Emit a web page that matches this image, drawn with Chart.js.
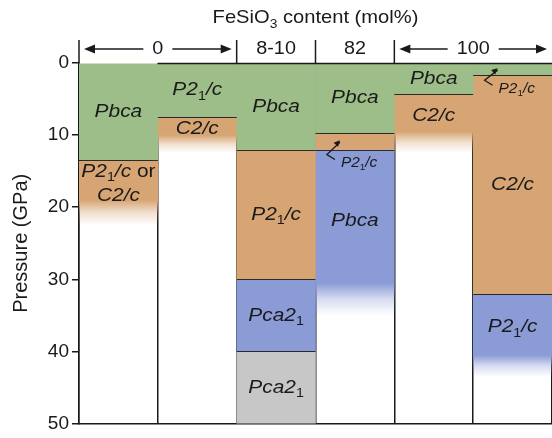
<!DOCTYPE html>
<html lang="en">
<head>
<meta charset="utf-8">
<script src="https://cdn.jsdelivr.net/npm/chart.js@4.4.1/dist/chart.umd.min.js"></script>
<title>FeSiO3 phases vs pressure</title>
<style>
  html, body { margin: 0; padding: 0; background: #fff; }
  .wrap { position: relative; width: 552px; height: 438px; }
</style>
</head>
<body>
<div class="wrap"><canvas id="phases"></canvas></div>
<script>
// one column per study, FeSiO3 content on top
var columns = ['0', '0', '8-10', '82', '100', '100'];
var headerGroups = [['0', 0, 1], ['8-10', 2, 2], ['82', 3, 3], ['100', 4, 5]]; // label, first col, last col
var pressureTicks = [0, 10, 20, 30, 40, 50];

// [from, to] in GPa; fadeFrom = where the colour starts to fade out
var greenRanges = [[0, 13.5], [0, 7.5], [0, 12], [0, 9.7], [0, 4.3], [0, 1.7]];
var greenLabels = ['Pbca', 'P2_1/c', 'Pbca', 'Pbca', 'Pbca', 'P2_1/c'];

var orangeRanges = [[13.5, 22.5], [7.5, 12.5], [12, 30], [9.7, 12], [4.3, 12.5], [1.7, 32]];
var orangeFadeFrom = [19, 10, null, null, 9.5, null];
var orangeLabels = ['P2_1/c or|C2/c', 'C2/c', 'P2_1/c', 'P2_1/c', 'C2/c', 'C2/c'];

var blueRanges = [null, null, [30, 40], [12, 35], null, [32, 43.5]];
var blueFadeFrom = [null, null, null, 30.5, null, 40.5];
var blueLabels = [null, null, 'Pca2_1', 'Pbca', null, 'P2_1/c'];

var grayRanges = [null, null, [40, 50], null, null, null];
var grayLabels = [null, null, 'Pca2_1', null, null, null];

var GREEN = '#9dbd89', ORANGE = '#d7a574', BLUE = '#8a9bd6', GRAY = '#c8c7c8';
var INK = '#1a1a1a';
var FONT = '"Liberation Sans", Arial, sans-serif';

function rgba(hex, a) {
  var n = parseInt(hex.slice(1), 16);
  return 'rgba(' + (n >> 16) + ',' + ((n >> 8) & 255) + ',' + (n & 255) + ',' + a + ')';
}

// solid colour, or a gradient that fades to nothing below fadeFrom
function fill(color, fades) {
  return function (c) {
    var from = fades ? fades[c.dataIndex] : null;
    var chart = c.chart;
    if (from == null || !chart.chartArea || !c.raw) return color;
    var y = chart.scales.y;
    var y0 = y.getPixelForValue(c.raw[0]), y1 = y.getPixelForValue(c.raw[1]);
    var g = chart.ctx.createLinearGradient(0, y0, 0, y1);
    var t = (from - c.raw[0]) / (c.raw[1] - c.raw[0]);
    g.addColorStop(0, color);
    g.addColorStop(t, color);
    g.addColorStop(t + (1 - t) * 0.5, rgba(color, 0.35));
    g.addColorStop(1, rgba(color, 0));
    return g;
  };
}

// "P2_1/c or" -> italic runs, _x subscript (upright), "or" upright
function pieces(line, italic) {
  var out = [];
  line.split(' ').forEach(function (word, k) {
    if (k > 0) out.push({ t: ' ', it: italic, sub: false });
    if (word === 'or') { out.push({ t: word, it: false, sub: false }); return; }
    word.split(/(_\w)/).forEach(function (p) {
      if (!p) return;
      if (p[0] === '_') out.push({ t: p.slice(1), it: false, sub: true });
      else out.push({ t: p, it: italic, sub: false });
    });
  });
  return out;
}

function fontFor(p, size) {
  return (p.it ? 'italic ' : '') + (p.sub ? Math.round(size * 0.66) : size) + 'px ' + FONT;
}

// text is a bit wider than plain Arial in the figure, hence the stretch
function drawRich(ctx, line, x, y, size, align, italic, stretch) {
  var ps = pieces(line, italic !== false), w = 0;
  var sx = stretch || 1.1;
  ps.forEach(function (p) { ctx.font = fontFor(p, size); p.w = ctx.measureText(p.t).width; w += p.w; });
  ctx.save();
  ctx.translate(x, y);
  ctx.scale(sx, 1);
  var cx = align === 'left' ? 0 : -w / 2;
  ctx.textAlign = 'left';
  ctx.textBaseline = 'middle';
  ps.forEach(function (p) {
    ctx.font = fontFor(p, size);
    ctx.fillText(p.t, cx, p.sub ? size * 0.32 : 0);
    cx += p.w;
  });
  ctx.restore();
  return w * sx;
}

function arrowHead(ctx, x0, y0, x1, y1, len, half) {
  var a = Math.atan2(y1 - y0, x1 - x0);
  ctx.beginPath();
  ctx.moveTo(x1, y1);
  ctx.lineTo(x1 - len * Math.cos(a) + half * Math.sin(a), y1 - len * Math.sin(a) - half * Math.cos(a));
  ctx.lineTo(x1 - len * Math.cos(a) - half * Math.sin(a), y1 - len * Math.sin(a) + half * Math.cos(a));
  ctx.closePath();
  ctx.fill();
}

var layers = [
  { ranges: greenRanges, labels: greenLabels, fades: null },
  { ranges: orangeRanges, labels: orangeLabels, fades: orangeFadeFrom },
  { ranges: blueRanges, labels: blueLabels, fades: blueFadeFrom },
  { ranges: grayRanges, labels: grayLabels, fades: null }
];

var phaseMarks = {
  id: 'phaseMarks',
  afterDatasetsDraw: function (chart) {
    var ctx = chart.ctx, area = chart.chartArea, x = chart.scales.x, y = chart.scales.y;
    var half = (area.right - area.left) / columns.length / 2;
    ctx.save();
    // boundaries between phases
    ctx.strokeStyle = '#2a2a2a';
    ctx.lineWidth = 1.2;
    layers.forEach(function (L) {
      L.ranges.forEach(function (r, j) {
        if (!r || r[0] <= 0) return;
        var cx = x.getPixelForValue(j), py = Math.round(y.getPixelForValue(r[0])) + 0.5;
        ctx.beginPath();
        ctx.moveTo(cx - half, py);
        ctx.lineTo(cx + half, py);
        ctx.stroke();
      });
    });
    // phase names
    ctx.fillStyle = INK;
    layers.forEach(function (L) {
      L.ranges.forEach(function (r, j) {
        var lab = L.labels[j];
        if (!r || !lab) return;
        var cx = x.getPixelForValue(j);
        if (r[1] - r[0] < 3) {
          // thin band: label below with a bent arrow
          var yMid = y.getPixelForValue((r[0] + r[1]) / 2), yEnd = y.getPixelForValue(r[1]);
          var hx = cx - 15, kx = cx - 28, ky = yEnd + 5;
          ctx.lineWidth = 1.3;
          ctx.strokeStyle = INK;
          ctx.beginPath();
          ctx.moveTo(cx - 20, ky + 5);
          ctx.lineTo(kx, ky);
          ctx.lineTo(hx, yMid + 1);
          ctx.stroke();
          arrowHead(ctx, kx, ky, hx, yMid - 1, 6, 3);
          drawRich(ctx, lab, cx - 14, yEnd + 13.5, 14, 'left');
          return;
        }
        var from = L.fades ? L.fades[j] : null;
        var bottom = from == null ? r[1] : from + (r[1] - from) * 0.25;
        var cy = y.getPixelForValue((r[0] + bottom) / 2);
        var lines = lab.split('|'), lh = 24;
        lines.forEach(function (ln, k) {
          drawRich(ctx, ln, cx, cy + (k - (lines.length - 1) / 2) * lh, 19, 'center');
        });
      });
    });
    ctx.restore();
  },
  afterDraw: function (chart) {
    var ctx = chart.ctx, area = chart.chartArea, x = chart.scales.x;
    var half = (area.right - area.left) / columns.length / 2;
    ctx.save();
    ctx.strokeStyle = INK;
    ctx.fillStyle = INK;
    ctx.lineWidth = 1.5;
    // top edge (first column left open as in the figure)
    ctx.beginPath();
    ctx.moveTo(x.getPixelForValue(1) - half, area.top + 0.5);
    ctx.lineTo(area.right, area.top + 0.5);
    ctx.stroke();

    drawRich(ctx, 'FeSiO_3 content (mol%)', (area.left + area.right) / 2, 18, 19, 'center', false, 1.06);

    var hy = 49;
    headerGroups.forEach(function (g) {
      var x0 = x.getPixelForValue(g[1]) - half, x1 = x.getPixelForValue(g[2]) + half;
      var cx = (x0 + x1) / 2;
      ctx.beginPath();
      ctx.moveTo(x0, 40);
      ctx.lineTo(x0, area.top);
      ctx.stroke();
      var w = drawRich(ctx, g[0], cx, hy, 18, 'center', false, 1.1);
      if (g[2] > g[1]) {
        var gap = w / 2 + 9;
        [[cx - gap, x0 + 5], [cx + gap, x1 - 5]].forEach(function (s) {
          ctx.beginPath();
          ctx.moveTo(s[0], hy);
          ctx.lineTo(s[1] + (s[1] > s[0] ? -6 : 6), hy);
          ctx.stroke();
          arrowHead(ctx, s[0], hy, s[1], hy, 11, 4.5);
        });
      }
    });
    ctx.restore();
  }
};

function dataset(L, color) {
  return {
    data: L.ranges,
    backgroundColor: fill(color, L.fades),
    borderWidth: 0,
    barPercentage: 1,
    categoryPercentage: 1,
    grouped: false
  };
}

new Chart(document.getElementById('phases'), {
  type: 'bar',
  data: {
    labels: columns,
    datasets: [
      dataset(layers[0], GREEN),
      dataset(layers[1], ORANGE),
      dataset(layers[2], BLUE),
      dataset(layers[3], GRAY)
    ]
  },
  options: {
    responsive: true,
    maintainAspectRatio: false,
    devicePixelRatio: 1,
    animation: false,
    layout: { padding: { top: 63, right: 0, bottom: 6, left: 0 } },
    plugins: { legend: { display: false }, tooltip: { enabled: false } },
    scales: {
      x: {
        offset: true,
        z: 1,
        ticks: { display: false },
        grid: { offset: true, color: INK, lineWidth: 1.5, drawTicks: false },
        border: { display: true, color: INK, width: 1.5 },
        afterFit: function (s) { s.height = 0; }
      },
      y: {
        reverse: true,
        min: pressureTicks[0],
        max: pressureTicks[pressureTicks.length - 1],
        z: 1,
        afterBuildTicks: function (s) { s.ticks = pressureTicks.map(function (v) { return { value: v }; }); },
        ticks: { color: INK, font: { size: 19, family: FONT }, padding: 3 },
        grid: { drawOnChartArea: false, drawTicks: true, tickLength: 7, color: INK, lineWidth: 1.5 },
        border: { display: true, color: INK, width: 1.5 },
        title: { display: true, text: 'Pressure (GPa)', color: INK, font: { size: 20, family: FONT }, padding: { top: 9, bottom: 0 } },
        afterFit: function (s) { s.width = 79; }
      }
    }
  },
  plugins: [phaseMarks]
});
</script>
</body>
</html>
